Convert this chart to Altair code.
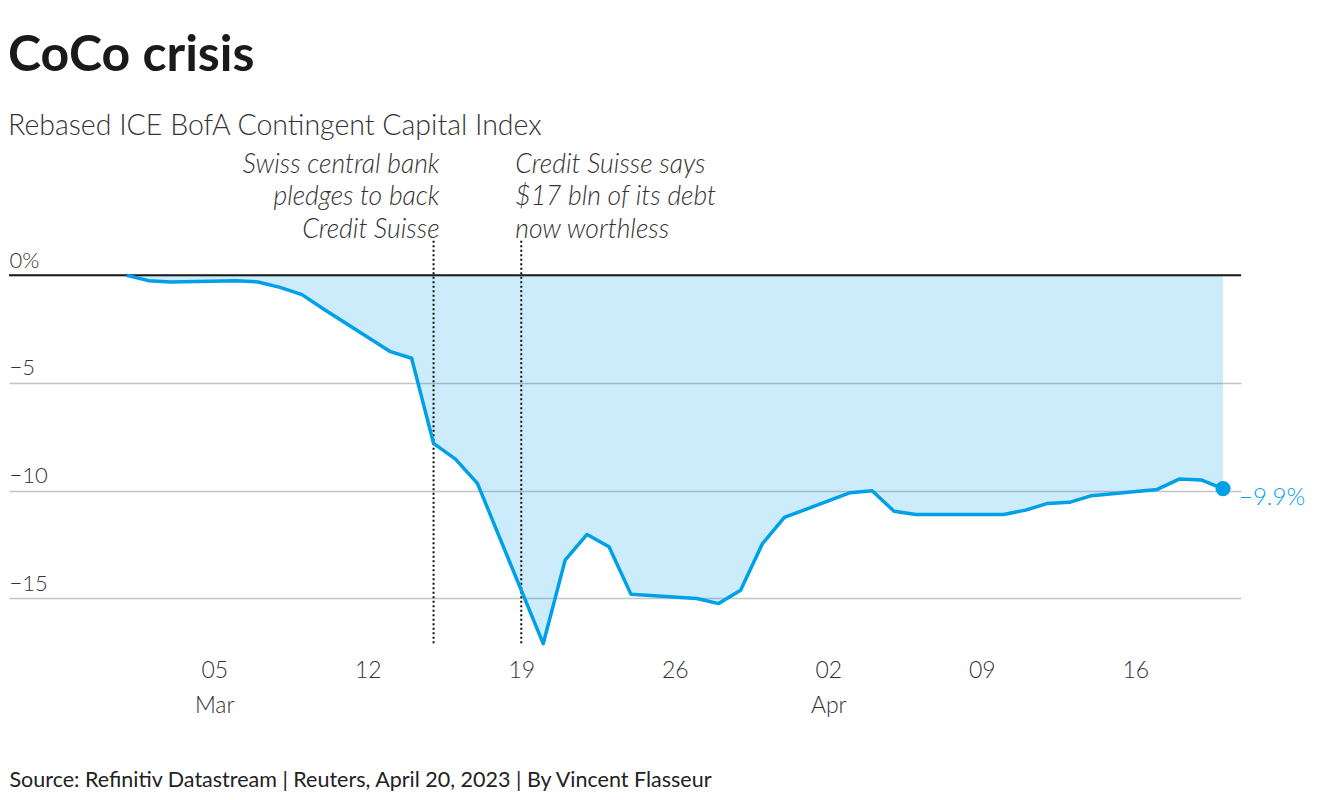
import altair as alt
import pandas as pd

# ---------------- data ----------------
dates = [
    "2023-03-01", "2023-03-02", "2023-03-03", "2023-03-06", "2023-03-07",
    "2023-03-08", "2023-03-09", "2023-03-10", "2023-03-13", "2023-03-14",
    "2023-03-15", "2023-03-16", "2023-03-17", "2023-03-20", "2023-03-21",
    "2023-03-22", "2023-03-23", "2023-03-24", "2023-03-27", "2023-03-28",
    "2023-03-29", "2023-03-30", "2023-03-31", "2023-04-03", "2023-04-04",
    "2023-04-05", "2023-04-06", "2023-04-10", "2023-04-11", "2023-04-12",
    "2023-04-13", "2023-04-14", "2023-04-17", "2023-04-18", "2023-04-19",
    "2023-04-20",
]
values = [
    0.0, -0.25, -0.31, -0.25, -0.31,
    -0.56, -0.9, -1.58, -3.53, -3.85,
    -7.8, -8.53, -9.66, -17.1, -13.22,
    -12.03, -12.6, -14.8, -15.0, -15.24,
    -14.62, -12.45, -11.24, -10.09, -10.0,
    -10.95, -11.1, -11.1, -10.9, -10.59,
    -10.54, -10.23, -9.94, -9.46, -9.5,
    -9.9,
]

tick_dates = ["2023-03-05", "2023-03-12", "2023-03-19", "2023-03-26",
              "2023-04-02", "2023-04-09", "2023-04-16"]
tick_day_labels = ["05", "12", "19", "26", "02", "09", "16"]
tick_month_labels = ["Mar", "", "", "", "Apr", "", ""]

y_ticks = [-15, -10, -5, 0]
y_tick_labels = ["\u221215", "\u221210", "\u22125", "0%"]

ann_dates = ["2023-03-15", "2023-03-19"]
ann_texts = ["Swiss central bank\npledges to back\nCredit Suisse",
             "Credit Suisse says\n$17 bln of its debt\nnow worthless"]
ann_line_top = [1.6, 1.6]
ann_line_bottom = [-17.1, -17.1]
ann_text_y = [4.76, 4.76]

end_label = "\u22129.9%"
zero_line = [0]

# ---------------- helpers ----------------
base_date = pd.Timestamp("2023-03-01")

def to_day(d):
    return (pd.Timestamp(d) - base_date).days

df = pd.DataFrame({"day": [to_day(d) for d in dates], "value": values})
df_end = df.tail(1).assign(label=end_label)
df_ann = pd.DataFrame({
    "day": [to_day(d) for d in ann_dates],
    "text": ann_texts,
    "top": ann_line_top,
    "bottom": ann_line_bottom,
    "ty": ann_text_y,
})
df_zero = pd.DataFrame({"y": zero_line})

tick_days = [to_day(d) for d in tick_dates]
x_label_expr = ""
for d, a, b in zip(tick_days, tick_day_labels, tick_month_labels):
    lab = f"['{a}', '{b}']" if b else f"'{a}'"
    x_label_expr += f"datum.value == {d} ? {lab} : "
x_label_expr += "''"

y_label_expr = ""
for v, l in zip(y_ticks, y_tick_labels):
    y_label_expr += f"datum.value == {v} ? '{l}' : "
y_label_expr += "''"

BLUE = "#00a0e9"
FONT = "Lato"

x_scale = alt.Scale(domain=[-5.36, 50.82], nice=False, zero=False)
y_scale = alt.Scale(domain=[-17.3, 6.0], nice=False, zero=False)

x_axis = alt.Axis(
    values=tick_days, labelExpr=x_label_expr, grid=False, domain=False,
    ticks=False, labelFontSize=23, labelFontWeight=300, labelColor="#333333",
    labelLineHeight=35, labelPadding=11, labelFlush=False, labelOverlap=False,
    title="Source: Refinitiv Datastream | Reuters, April 20, 2023 | By Vincent Flasseur",
    titleFontSize=21.5, titleFontWeight="normal", titleColor="#222222",
    titleAnchor="start", titleAlign="left", titlePadding=52, titleFont=FONT,
)
y_axis = alt.Axis(
    values=y_ticks, labelExpr=y_label_expr, grid=True, gridColor="#c4c4c4",
    gridWidth=1.5, domain=False, ticks=False, tickSize=0, labelPadding=0,
    labelAlign="left", labelBaseline="alphabetic", labelOffset=-8,
    labelFontSize=22, labelFontWeight=300, labelColor="#333333", title=None,
)

X = alt.X("day:Q", scale=x_scale, axis=x_axis)
Y = alt.Y("value:Q", scale=y_scale, axis=y_axis)

base = alt.Chart(df)

area = base.mark_area(color=BLUE, opacity=0.2).encode(x=X, y=Y, y2=alt.datum(0))

vlines = alt.Chart(df_ann).mark_rule(
    color="#111111", strokeWidth=2, strokeDash=[2, 2.5]
).encode(
    x=alt.X("day:Q", scale=x_scale, axis=x_axis),
    y=alt.Y("top:Q", scale=y_scale, axis=y_axis),
    y2="bottom:Q",
)

zero = alt.Chart(df_zero).mark_rule(color="#1a1a1a", strokeWidth=2).encode(
    y=alt.Y("y:Q", scale=y_scale, axis=y_axis)
)

line = base.mark_line(color=BLUE, strokeWidth=3.5, strokeJoin="round").encode(x=X, y=Y)

dot = alt.Chart(df_end).mark_circle(color=BLUE, size=230, opacity=1).encode(x=X, y=Y)

end_text = alt.Chart(df_end).mark_text(
    color=BLUE, fontSize=24, fontWeight=300, align="left", baseline="middle",
    dx=16, dy=9, font=FONT,
).encode(x=X, y=Y, text="label:N")

ann_common = dict(fontSize=26.5, fontWeight=300, fontStyle="italic", color="#333333",
                  baseline="alphabetic", lineBreak="\n", lineHeight=32.5, font=FONT)

ann1 = alt.Chart(df_ann.iloc[[0]]).mark_text(align="right", dx=6, **ann_common).encode(
    x=alt.X("day:Q", scale=x_scale, axis=x_axis),
    y=alt.Y("ty:Q", scale=y_scale, axis=y_axis),
    text="text:N",
)
ann2 = alt.Chart(df_ann.iloc[[1]]).mark_text(align="left", dx=-6, **ann_common).encode(
    x=alt.X("day:Q", scale=x_scale, axis=x_axis),
    y=alt.Y("ty:Q", scale=y_scale, axis=y_axis),
    text="text:N",
)

chart = alt.layer(area, vlines, zero, line, dot, end_text, ann1, ann2).properties(
    width=1232,
    height=502,
    padding={"top": 22, "left": 0, "right": 0, "bottom": 0},
    title=alt.TitleParams(
        text="CoCo crisis",
        subtitle="Rebased ICE BofA Contingent Capital Index",
        anchor="start", font=FONT, fontSize=50, fontWeight="bold", color="#1a1a1a",
        subtitleFont=FONT, subtitleFontSize=28.5, subtitleFontWeight=300,
        subtitleColor="#333333", subtitlePadding=31, offset=6,
    ),
).configure(font=FONT).configure_view(stroke=None)

chart.save("out.html", embed_options={"renderer": "svg", "actions": False})
